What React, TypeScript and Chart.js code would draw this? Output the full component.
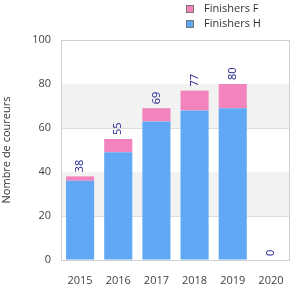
import React, { useEffect, useRef } from "react";
import { Chart, registerables } from "chart.js";

Chart.register(...registerables);

const years = ["2015", "2016", "2017", "2018", "2019", "2020"];
const finishersH = [36, 49, 63, 68, 69, 0];
const finishersF = [2, 6, 6, 9, 11, 0];
const yTicks = [0, 20, 40, 60, 80, 100];

const BLUE = "#60a8f4";
const PINK = "#f283bd";
const FONT = "'Open Sans', 'DejaVu Sans', sans-serif";

const bandsPlugin = {
  id: "bands",
  beforeDatasetsDraw(chart: any) {
    const { ctx, chartArea, scales } = chart;
    const y = scales.y;
    ctx.save();
    ctx.fillStyle = "#f2f2f2";
    const bands = [[20, 40], [60, 80]];
    bands.forEach(([a, b]) => {
      const top = y.getPixelForValue(b);
      const bot = y.getPixelForValue(a);
      ctx.fillRect(chartArea.left, top, chartArea.right - chartArea.left, bot - top);
    });
    ctx.restore();
  },
  beforeDraw(chart: any) {},
};

const frameAndLabels = {
  id: "frameAndLabels",
  afterDatasetsDraw(chart: any) {
    const { ctx, chartArea } = chart;
    ctx.save();
    ctx.strokeStyle = "#d0d0d0";
    ctx.lineWidth = 1;
    ctx.strokeRect(chartArea.left + 0.5, chartArea.top + 0.5, chartArea.right - chartArea.left - 1, chartArea.bottom - chartArea.top);
    const metaF = chart.getDatasetMeta(1);
    ctx.fillStyle = "#1a1a8c";
    ctx.font = `11px ${FONT}`;
    ctx.textAlign = "left";
    ctx.textBaseline = "middle";
    years.forEach((_, i) => {
      const el = metaF.data[i];
      const total = finishersH[i] + finishersF[i];
      const x = el.x;
      const top = Math.min(el.y, el.base);
      ctx.save();
      ctx.translate(x, top - 4);
      ctx.rotate(-Math.PI / 2);
      ctx.fillText(String(total), 0, 0);
      ctx.restore();
    });
    // legend
    const items = [
      { label: "Finishers F", color: PINK },
      { label: "Finishers H", color: BLUE },
    ];
    ctx.font = `11px ${FONT}`;
    ctx.textBaseline = "middle";
    ctx.textAlign = "left";
    items.forEach((it, k) => {
      const yy = 9 + k * 15;
      ctx.fillStyle = it.color;
      ctx.fillRect(186, yy - 4, 8, 8);
      ctx.strokeStyle = "#777";
      ctx.strokeRect(186.5, yy - 3.5, 7, 7);
      ctx.fillStyle = "#333";
      ctx.fillText(it.label, 204, yy);
    });
    ctx.restore();
  },
};

export default function App() {
  const ref = useRef<HTMLCanvasElement>(null);
  useEffect(() => {
    const chart = new Chart(ref.current!, {
      type: "bar",
      data: {
        labels: years,
        datasets: [
          { label: "Finishers H", data: finishersH, backgroundColor: BLUE, categoryPercentage: 0.8, barPercentage: 0.92 },
          { label: "Finishers F", data: finishersF, backgroundColor: PINK, categoryPercentage: 0.8, barPercentage: 0.92 },
        ],
      },
      options: {
        animation: false,
        responsive: false,
        layout: { padding: { top: 40, right: 10, left: 0, bottom: 0 } },
        plugins: { legend: { display: false }, tooltip: { enabled: false } },
        scales: {
          x: {
            stacked: true,
            grid: { display: false },
            border: { display: false },
            ticks: { color: "#444", font: { family: FONT, size: 11 }, padding: 6 },
            afterFit: (s: any) => { s.height = 40; },
          },
          y: {
            stacked: true,
            min: 0,
            max: 100,
            afterBuildTicks: (s: any) => { s.ticks = yTicks.map((v) => ({ value: v })); },
            grid: { color: "#dddddd", drawTicks: false },
            border: { display: false },
            ticks: { color: "#444", font: { family: FONT, size: 11 }, padding: 10 },
            title: { display: true, text: "Nombre de coureurs", color: "#333", font: { family: FONT, size: 11 }, padding: 0 },
            afterFit: (s: any) => { s.width = 61; },
          },
        },
      },
      plugins: [bandsPlugin, frameAndLabels],
    });
    return () => chart.destroy();
  }, []);
  return (
    <div style={{ position: "absolute", left: 0, top: 0, width: 300, height: 300 }}>
      <canvas ref={ref} width={300} height={300} />
    </div>
  );
}
